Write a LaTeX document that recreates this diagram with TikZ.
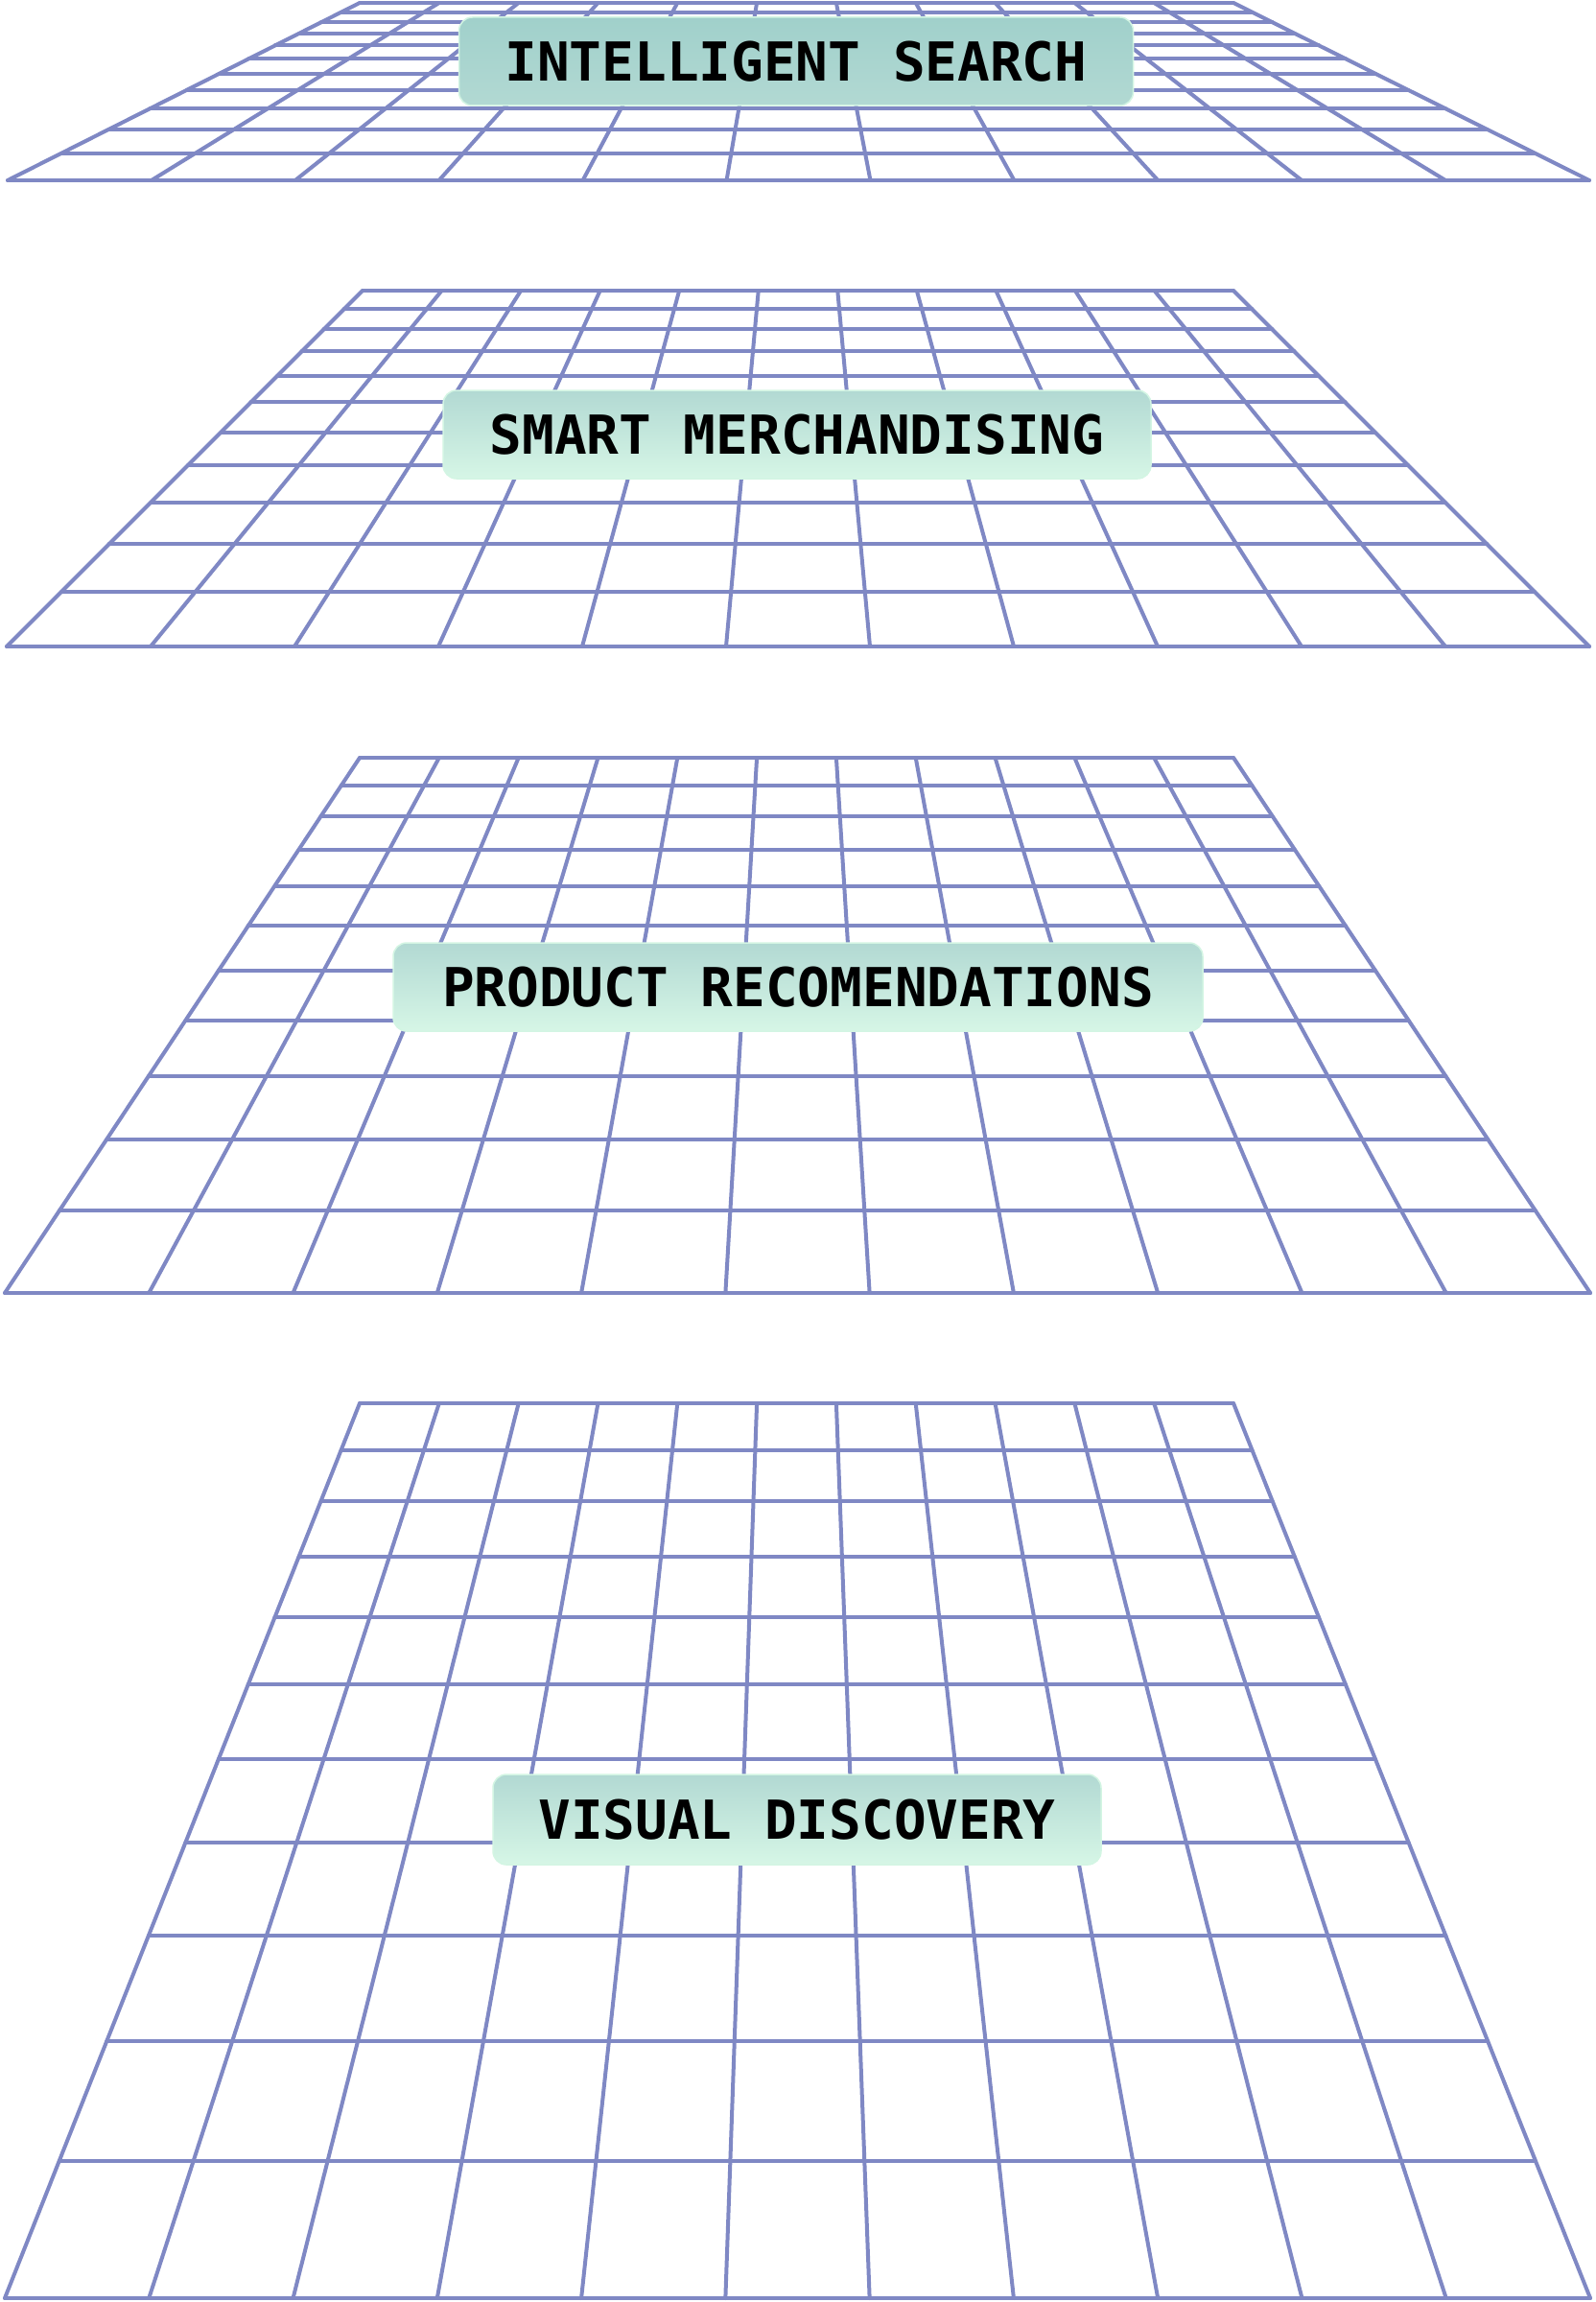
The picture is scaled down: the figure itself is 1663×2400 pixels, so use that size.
\documentclass[tikz,border=0pt]{standalone}
\usepackage{fontspec}
\setmonofont{DejaVu Sans Mono}
\begin{document}
\begin{tikzpicture}[x=1pt,y=-1pt,
  gridline/.style={draw=gridc,line width=4pt,line cap=round,line join=round},
  lbl/.style={rounded corners=14pt,draw=mintb,line width=1.5pt,top color=tealt,bottom color=mintbot,
    font=\ttfamily\fontsize{56}{56}\selectfont,inner sep=0pt,anchor=center}]
\definecolor{gridc}{HTML}{7F88C4}
\definecolor{tealt}{HTML}{B2D9D3}
\definecolor{mintbot}{HTML}{D6F6E6}
\definecolor{mintb}{HTML}{D3F5E3}
\useasboundingbox (0,0) rectangle (1663,2400);
\fill[white] (0,0) rectangle (1663,2400);
% #1 ytop #2 ybot #3 xtl #4 xtr #5 xbl #6 xbr
\newcommand\mypanel[6]{%
  \pgfmathsetmacro\rr{(#4-#3)/(#6-#5)}%
  \foreach \j in {0,...,11}{%
    \pgfmathsetmacro\xa{#3+(#4-#3)/11*\j}%
    \pgfmathsetmacro\xb{#5+(#6-#5)/11*\j}%
    \draw[gridline] (\xa,#1) -- (\xb,#2);}%
  \foreach \i in {0,...,11}{%
    \pgfmathsetmacro\zz{1/\rr+(1-1/\rr)*\i/11}%
    \pgfmathsetmacro\ss{(1/\zz-\rr)/(1-\rr)}%
    \pgfmathsetmacro\yy{#1+\ss*(#2-#1)}%
    \pgfmathsetmacro\xl{#3+\ss*(#5-#3)}%
    \pgfmathsetmacro\xr{#4+\ss*(#6-#4)}%
    \draw[gridline] (\xl,\yy) -- (\xr,\yy);}%
}
\mypanel{3}{188}{375}{1286}{8}{1657}
\mypanel{303}{674}{378}{1286}{7}{1657}
\mypanel{790}{1348}{375}{1286}{5}{1658}
\mypanel{1463}{2396}{375}{1286}{5}{1658}
\node[lbl,minimum width=703pt,minimum height=92pt,top color=tealt!90!teal,bottom color=tealt] (l1) at (830,64) {\bfseries INTELLIGENT SEARCH};
\node[lbl,minimum width=738pt,minimum height=92pt] (l2) at (831,453) {\bfseries SMART MERCHANDISING};
\node[lbl,minimum width=844pt,minimum height=92pt] (l3) at (832,1029) {\bfseries PRODUCT RECOMENDATIONS};
\node[lbl,minimum width=634pt,minimum height=94pt] (l4) at (831,1897) {\bfseries VISUAL DISCOVERY};
\end{tikzpicture}
\end{document}
